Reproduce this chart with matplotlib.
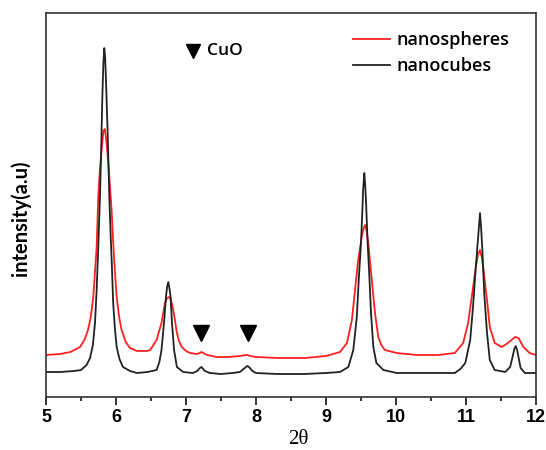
import matplotlib
matplotlib.use("Agg")
import matplotlib.pyplot as plt
from matplotlib.ticker import MultipleLocator

# Black curve (nanocubes)
cubes_x = [5.0, 5.2, 5.4, 5.5, 5.58, 5.63, 5.67, 5.70, 5.724, 5.747, 5.771, 5.786, 5.805, 5.82, 5.833,
           5.845, 5.857, 5.88, 5.905, 5.925, 5.94, 5.96, 5.985, 6.01, 6.05, 6.10, 6.2, 6.3, 6.45, 6.58,
           6.62, 6.65, 6.686, 6.714, 6.73, 6.747, 6.765, 6.78, 6.80, 6.83, 6.87, 6.96, 7.10, 7.16, 7.2,
           7.22, 7.245, 7.27, 7.34, 7.5, 7.67, 7.77, 7.84, 7.875, 7.9, 7.95, 8.0, 8.3, 8.7, 9.0, 9.2,
           9.32, 9.39, 9.44, 9.47, 9.50, 9.52, 9.53, 9.547, 9.56, 9.571, 9.595, 9.62, 9.643, 9.676,
           9.72, 9.82, 10.01, 10.4, 10.84, 10.92, 10.99, 11.06, 11.10, 11.14, 11.17, 11.2, 11.215,
           11.234, 11.26, 11.30, 11.34, 11.41, 11.56, 11.63, 11.665, 11.69, 11.71, 11.73, 11.755,
           11.78, 11.84, 12.0]
cubes_y = [25, 25, 26, 27, 32, 39, 52, 74, 107, 150, 200, 240, 300, 334, 349,
           340, 317, 267, 200, 160, 134, 94, 68, 50, 38, 30, 26, 24, 25, 27,
           35, 47, 74, 100, 110, 115, 108, 100, 74, 47, 30, 25, 24, 26, 29,
           30, 28, 26, 24, 23, 24, 25, 29, 31, 30, 26, 24, 23, 23, 24, 25,
           30, 47, 80, 120, 154, 187, 207, 224, 212, 197, 154, 120, 84, 50,
           34, 27, 24, 24, 24, 28, 34, 57, 90, 130, 157, 184, 170,
           147, 104, 64, 37, 27, 25, 30, 40, 48, 51, 47, 38,
           29, 24, 24]

# Red curve (nanospheres)
spheres_x = [5.0, 5.2, 5.35, 5.486, 5.55, 5.60, 5.64, 5.676, 5.70, 5.724, 5.747, 5.765, 5.786, 5.82,
             5.84, 5.865, 5.89, 5.915, 5.94, 5.96, 5.985, 6.01, 6.045, 6.08, 6.14, 6.2, 6.3, 6.44,
             6.49, 6.58, 6.65, 6.70, 6.73, 6.76, 6.785, 6.81, 6.84, 6.87, 6.9, 6.94, 7.0, 7.06, 7.15,
             7.2, 7.22, 7.25, 7.3, 7.44, 7.6, 7.77, 7.87, 7.92, 8.0, 8.3, 8.7, 9.0, 9.2, 9.30, 9.37,
             9.41, 9.46, 9.51, 9.535, 9.557, 9.58, 9.604, 9.65, 9.70, 9.747, 9.79, 9.84, 10.01, 10.3,
             10.6, 10.84, 10.96, 11.03, 11.09, 11.14, 11.17, 11.2, 11.225, 11.25, 11.30, 11.34, 11.41,
             11.51, 11.60, 11.70, 11.75, 11.82, 11.91, 12.0]
spheres_y = [42, 43, 45, 50, 57, 67, 80, 100, 125, 150, 200, 222, 240, 266,
             268, 255, 234, 210, 184, 155, 125, 100, 80, 67, 55, 49, 46, 46,
             47, 57, 74, 94, 99, 100, 97, 90, 78, 64, 56, 50, 46, 44, 43,
             44, 45, 44, 42, 40, 40, 41, 42, 41, 40, 39, 39, 41, 45, 54, 77,
             104, 137, 160, 168, 172, 166, 154, 120, 84, 60, 52, 47, 44, 42,
             42, 44, 54, 74, 104, 130, 142, 147, 140, 127, 97, 70, 54,
             50, 54, 60, 59, 50, 44, 42]

# CuO reflection markers
cuo_x = [7.22, 7.88]
cuo_y = [64, 64]

x_ticks = [5, 6, 7, 8, 9, 10, 11, 12]

fig = plt.figure(figsize=(5.46, 4.5), dpi=100)
ax = fig.add_axes([0.0842, 0.1178, 0.8975, 0.8532])

ax.plot(spheres_x, spheres_y, color="#ff2020", lw=1.3, label="nanospheres")
ax.plot(cubes_x, cubes_y, color="#222222", lw=1.3, label="nanocubes")
ax.plot(cuo_x, cuo_y, linestyle="none", marker="v", markersize=12, color="black")

ax.set_xlim(5, 12)
ax.set_ylim(0, 384)
ax.set_xticks(x_ticks)
ax.set_xticklabels([str(t) for t in x_ticks], fontweight="bold", fontsize=13,
                   family=["Liberation Sans Narrow", "Liberation Sans"])
ax.xaxis.set_minor_locator(MultipleLocator(0.5))
ax.tick_params(axis="x", which="major", direction="out", length=6, width=1.1, pad=3)
ax.tick_params(axis="x", which="minor", direction="out", length=3, width=1.1)
ax.set_yticks([])
for s in ax.spines.values():
    s.set_linewidth(1.2)
    s.set_color("#333333")

ax.set_ylabel("intensity(a.u)", fontweight="bold", fontsize=14.5, family="Lato", va="center")
ax.yaxis.set_label_coords(-0.051, 0.466)
ax.set_xlabel("2θ", fontsize=15, family="Liberation Serif", va="top")
ax.xaxis.set_label_coords(0.514, -0.086)

leg = ax.legend(loc="upper left", bbox_to_anchor=(0.619, 0.962), frameon=False,
                prop={"family": "Open Sans", "size": 13, "weight": "semibold"},
                handlelength=2.05, handletextpad=0.39, labelspacing=0.42,
                borderpad=0.2, borderaxespad=0.0)

ax.plot([7.1], [346], linestyle="none", marker="v", markersize=10, color="black")
ax.text(7.3, 346, "CuO", fontsize=12.5, family="Open Sans", fontweight="semibold",
        va="center", ha="left")

fig.savefig("out.png", dpi=100)
